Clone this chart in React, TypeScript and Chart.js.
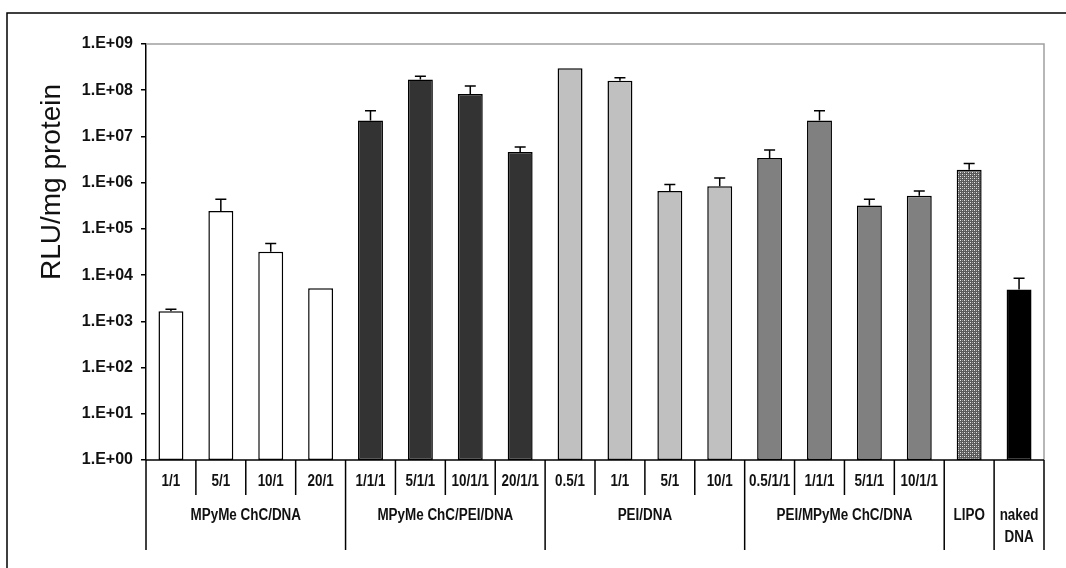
import { useEffect, useRef } from 'react';
import { Chart, registerables } from 'chart.js';

Chart.register(...registerables);

// ---------- data ----------
const categories = [
  '1/1', '5/1', '10/1', '20/1',
  '1/1/1', '5/1/1', '10/1/1', '20/1/1',
  '0.5/1', '1/1', '5/1', '10/1',
  '0.5/1/1', '1/1/1', '5/1/1', '10/1/1',
  'LIPO', 'naked DNA',
];
const subLabels = [
  '1/1', '5/1', '10/1', '20/1',
  '1/1/1', '5/1/1', '10/1/1', '20/1/1',
  '0.5/1', '1/1', '5/1', '10/1',
  '0.5/1/1', '1/1/1', '5/1/1', '10/1/1',
  '', '',
];
const groupLabels: string[][] = [
  ['MPyMe ChC/DNA'],
  ['MPyMe ChC/PEI/DNA'],
  ['PEI/DNA'],
  ['PEI/MPyMe ChC/DNA'],
  ['LIPO'],
  ['naked', 'DNA'],
];
const groupSizes = [4, 4, 4, 4, 1, 1];
const rluValues = [
  1.66e3, 2.45e5, 3.2e4, 5.2e3,
  2.2e7, 1.7e8, 8.3e7, 4.6e6,
  3.0e8, 1.6e8, 6.6e5, 8.4e5,
  3.4e6, 2.2e7, 3.2e5, 5.2e5,
  1.9e6, 4.9e3,
];
const errorTop: (number | null)[] = [
  1.83e3, 4.4e5, 4.8e4, null,
  3.6e7, 2.0e8, 1.23e8, 5.9e6,
  null, 1.85e8, 9.1e5, 1.26e6,
  5.1e6, 3.6e7, 4.4e5, 6.6e5,
  2.6e6, 8.5e3,
];
const yTickValues = [1, 1e1, 1e2, 1e3, 1e4, 1e5, 1e6, 1e7, 1e8, 1e9];
const yTitle = 'RLU/mg protein';

// ---------- styles ----------
const FONT = '"Liberation Sans", Arial, Helvetica, sans-serif';
const groupFills = ['#ffffff', '#333333', '#c0c0c0', '#808080', 'PATTERN', '#000000'];

function makePattern(ctx: CanvasRenderingContext2D) {
  const c = document.createElement('canvas');
  c.width = 4;
  c.height = 4;
  const p = c.getContext('2d')!;
  p.fillStyle = '#5a5a5a';
  p.fillRect(0, 0, 4, 4);
  p.fillStyle = '#e8e8e8';
  p.fillRect(0, 0, 1, 1);
  p.fillRect(2, 2, 1, 1);
  p.fillStyle = '#a0a0a0';
  p.fillRect(2, 0, 1, 1);
  p.fillRect(0, 2, 1, 1);
  return ctx.createPattern(c, 'repeat');
}

function drawText(
  ctx: CanvasRenderingContext2D,
  text: string,
  x: number,
  y: number,
  font: string,
  sx: number,
) {
  ctx.save();
  ctx.translate(x, y);
  ctx.scale(sx, 1);
  ctx.font = font;
  ctx.textAlign = 'center';
  ctx.textBaseline = 'middle';
  ctx.fillStyle = '#111';
  ctx.fillText(text, 0, 0);
  ctx.restore();
}

const decorPlugin = {
  id: 'decor',
  beforeDraw(chart: any) {
    const ctx = chart.ctx as CanvasRenderingContext2D;
    ctx.save();
    ctx.fillStyle = '#ffffff';
    ctx.fillRect(0, 0, chart.width, chart.height);
    ctx.strokeStyle = '#000';
    ctx.lineWidth = 1.5;
    ctx.beginPath();
    ctx.moveTo(7, chart.height);
    ctx.lineTo(7, 13);
    ctx.lineTo(chart.width, 13);
    ctx.stroke();
    ctx.restore();
  },
  afterDatasetsDraw(chart: any) {
    const ctx = chart.ctx as CanvasRenderingContext2D;
    const yScale = chart.scales.y;
    const meta = chart.getDatasetMeta(0);
    ctx.save();
    ctx.strokeStyle = '#000';
    ctx.lineWidth = 1.5;
    errorTop.forEach((e, i) => {
      if (e == null) return;
      const bar = meta.data[i];
      const yt = yScale.getPixelForValue(e);
      ctx.beginPath();
      ctx.moveTo(bar.x, bar.y);
      ctx.lineTo(bar.x, yt);
      ctx.moveTo(bar.x - 5.5, yt);
      ctx.lineTo(bar.x + 5.5, yt);
      ctx.stroke();
    });
    ctx.restore();
  },
  afterDraw(chart: any) {
    const ctx = chart.ctx as CanvasRenderingContext2D;
    const xs = chart.scales.x;
    const a = chart.chartArea;
    const n = categories.length;
    const cw = (a.right - a.left) / n;
    ctx.save();
    // gray top/right frame of plot
    ctx.strokeStyle = '#a0a0a0';
    ctx.lineWidth = 1.5;
    ctx.beginPath();
    ctx.moveTo(a.left, a.top);
    ctx.lineTo(a.right, a.top);
    ctx.lineTo(a.right, a.bottom);
    ctx.stroke();
    // x axis line
    ctx.strokeStyle = '#000';
    ctx.lineWidth = 1.5;
    ctx.beginPath();
    ctx.moveTo(a.left, a.bottom);
    ctx.lineTo(a.right, a.bottom);
    ctx.stroke();
    // separators
    const boundaries = new Set<number>();
    let acc = 0;
    boundaries.add(0);
    groupSizes.forEach((g) => {
      acc += g;
      boundaries.add(acc);
    });
    for (let k = 0; k <= n; k++) {
      const px = k < n ? xs.getPixelForValue(k) - cw / 2 : xs.getPixelForValue(n - 1) + cw / 2;
      const yEnd = boundaries.has(k) ? a.bottom + 90 : a.bottom + 35;
      ctx.beginPath();
      ctx.moveTo(px, a.bottom);
      ctx.lineTo(px, yEnd);
      ctx.stroke();
    }
    // row-1 labels
    const f1 = `bold 16px ${FONT}`;
    subLabels.forEach((s, i) => {
      if (!s) return;
      drawText(ctx, s, xs.getPixelForValue(i), a.bottom + 22, f1, 0.84);
    });
    // group labels
    let start = 0;
    groupSizes.forEach((g, gi) => {
      const x0 = xs.getPixelForValue(start) - cw / 2;
      const x1 = xs.getPixelForValue(start + g - 1) + cw / 2;
      const cx = (x0 + x1) / 2;
      groupLabels[gi].forEach((line, li) => {
        drawText(ctx, line, cx, a.bottom + 56 + li * 22, f1, 0.84);
      });
      start += g;
    });
    // y title
    ctx.save();
    ctx.translate(52, 182);
    ctx.rotate(-Math.PI / 2);
    ctx.font = `28px ${FONT}`;
    ctx.textAlign = 'center';
    ctx.textBaseline = 'middle';
    ctx.fillStyle = '#111';
    ctx.fillText(yTitle, 0, 0);
    ctx.restore();
    ctx.restore();
  },
};

export default function App() {
  const ref = useRef<HTMLCanvasElement | null>(null);

  useEffect(() => {
    const canvas = ref.current;
    if (!canvas) return;
    const ctx = canvas.getContext('2d')!;
    const pattern = makePattern(ctx);
    const colors: any[] = [];
    groupSizes.forEach((g, gi) => {
      for (let k = 0; k < g; k++) colors.push(groupFills[gi] === 'PATTERN' ? pattern : groupFills[gi]);
    });

    const chart = new Chart(canvas, {
      type: 'bar',
      data: {
        labels: categories,
        datasets: [
          {
            data: rluValues,
            backgroundColor: colors,
            borderColor: '#000',
            borderWidth: 1.5,
            borderSkipped: false,
            barPercentage: 0.5,
            categoryPercentage: 1,
          },
        ],
      },
      options: {
        responsive: false,
        animation: false,
        events: [],
        layout: { padding: { left: 0, top: 44, right: 22, bottom: 108 } },
        plugins: { legend: { display: false }, tooltip: { enabled: false } },
        scales: {
          x: { display: false, offset: true },
          y: {
            type: 'logarithmic',
            min: 1,
            max: 1e9,
            afterFit: (s: any) => {
              s.width = 146;
            },
            afterBuildTicks: (s: any) => {
              s.ticks = yTickValues.map((v) => ({ value: v }));
            },
            border: { display: true, color: '#000', width: 1.5 },
            grid: {
              display: true,
              drawOnChartArea: false,
              drawTicks: true,
              tickLength: 5,
              color: '#000',
              lineWidth: 1.5,
            },
            ticks: {
              padding: 8,
              color: '#111',
              font: { family: FONT, size: 16, weight: 'bold' },
              callback: (v: any) => {
                const e = Math.round(Math.log10(Number(v)));
                return '1.E+' + String(e).padStart(2, '0');
              },
            },
          },
        },
      },
      plugins: [decorPlugin],
    });
    return () => chart.destroy();
  }, []);

  return (
    <div style={{ position: 'absolute', left: 0, top: 0, width: 1066, height: 568, background: '#fff' }}>
      <canvas ref={ref} width={1066} height={568} style={{ display: 'block' }} />
    </div>
  );
}
